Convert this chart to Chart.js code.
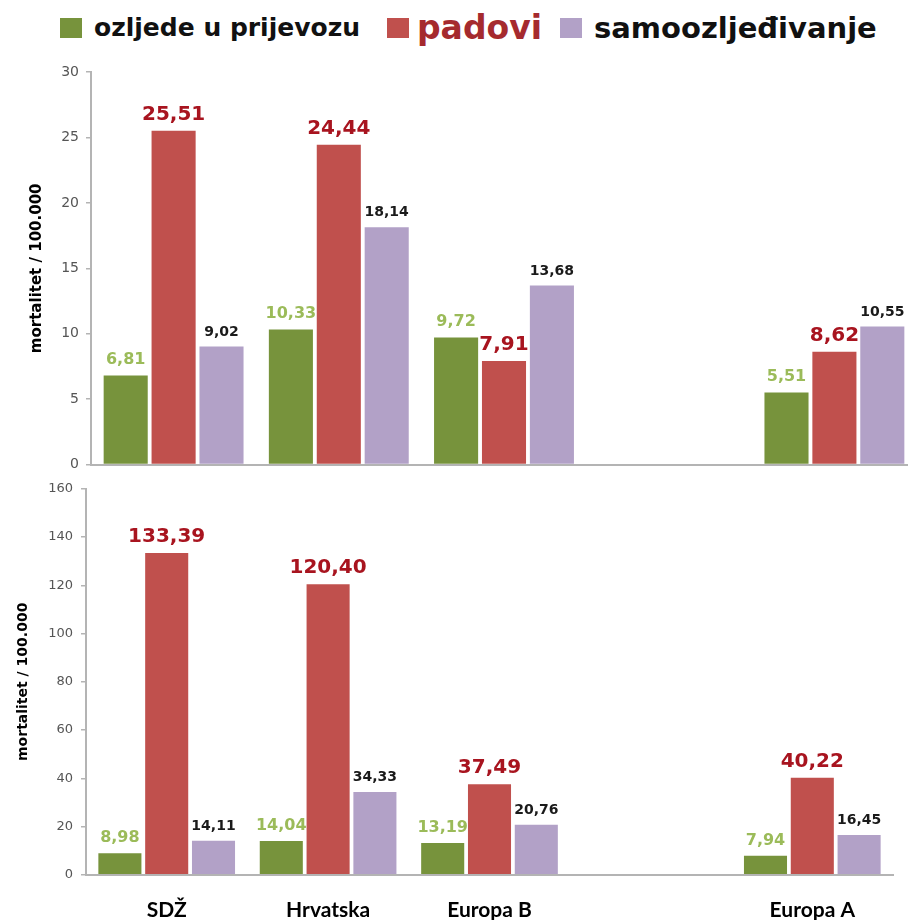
<!DOCTYPE html>
<html>
<head>
<meta charset="utf-8">
<script src="https://cdn.jsdelivr.net/npm/chart.js@4.4.0/dist/chart.umd.min.js"></script>
<style>
  body { margin: 0; background: #fff; width: 908px; height: 920px; overflow: hidden; position: relative; }
  #legend { position: absolute; top: 0; left: 0; width: 908px; height: 55px;
            font-family: "DejaVu Sans", Verdana, sans-serif; font-weight: bold; white-space: nowrap; }
  .item { position: absolute; top: 0; height: 55px; display: flex; align-items: center; }
  .box { width: 22px; height: 20px; margin-right: 12px; }
  #topWrap { position: absolute; top: 55px; left: 0; width: 908px; height: 425px; overflow: hidden; }
  #bottomWrap { position: absolute; top: 473px; left: 0; width: 908px; height: 475px; }
</style>
</head>
<body>
<div id="legend"></div>
<div id="topWrap"><canvas id="topChart" width="920" height="425" style="width:920px;height:425px"></canvas></div>
<div id="bottomWrap"><canvas id="bottomChart" width="908" height="475" style="width:908px;height:475px"></canvas></div>
<script>
const categories = ['SDŽ', 'Hrvatska', 'Europa B', '', 'Europa A'];
const seriesNames = ['ozljede u prijevozu', 'padovi', 'samoozljeđivanje'];

// gornji graf
const topTransport = [6.81, 10.33, 9.72, null, 5.51];
const topFalls = [25.51, 24.44, 7.91, null, 8.62];
const topSelfHarm = [9.02, 18.14, 13.68, null, 10.55];
const topTicks = [0, 5, 10, 15, 20, 25, 30];

// donji graf
const bottomTransport = [8.98, 14.04, 13.19, null, 7.94];
const bottomFalls = [133.39, 120.40, 37.49, null, 40.22];
const bottomSelfHarm = [14.11, 34.33, 20.76, null, 16.45];
const bottomTicks = [0, 20, 40, 60, 80, 100, 120, 140, 160];

const yTitle = 'mortalitet / 100.000';

const barColors = ['#77933c', '#c0504d', '#b2a1c7'];
const labelStyles = [
  { size: 16, color: '#9bbb59' },
  { size: 20, color: '#a8141f' },
  { size: 14, color: '#1a1a1a' }
];
const legendStyles = [
  { left: 60, size: 25, color: '#111', gap: 12 },
  { left: 387, size: 33, color: '#a52a2e', gap: 8 },
  { left: 560, size: 29, color: '#111', gap: 12 }
];

// legenda
const legend = document.getElementById('legend');
seriesNames.forEach((name, i) => {
  const st = legendStyles[i];
  legend.innerHTML += `<div class="item" style="left:${st.left}px">
    <div class="box" style="background:${barColors[i]};margin-right:${st.gap}px"></div>
    <span style="font-size:${st.size}px;color:${st.color}">${name}</span></div>`;
});

const fmt = v => v.toFixed(2).replace('.', ',');

const valueLabels = {
  id: 'valueLabels',
  afterDatasetsDraw(chart) {
    const ctx = chart.ctx;
    chart.data.datasets.forEach((ds, i) => {
      const meta = chart.getDatasetMeta(i);
      const st = labelStyles[i];
      ctx.save();
      ctx.font = `bold ${st.size}px "DejaVu Sans"`;
      ctx.fillStyle = st.color;
      ctx.textAlign = 'center';
      ctx.textBaseline = 'alphabetic';
      meta.data.forEach((el, j) => {
        const v = ds.data[j];
        if (v == null) return;
        ctx.fillText(fmt(v), el.x, el.y - 11);
      });
      ctx.restore();
    });
  }
};

function makeChart(id, series, ticks, opt) {
  const ctx = document.getElementById(id).getContext('2d');
  return new Chart(ctx, {
    type: 'bar',
    data: {
      labels: categories,
      datasets: series.map((data, i) => ({
        label: seriesNames[i],
        data: data,
        backgroundColor: barColors[i],
        barPercentage: 0.92,
        categoryPercentage: 0.87
      }))
    },
    options: {
      responsive: false,
      animation: false,
      layout: { padding: opt.padding },
      plugins: { legend: { display: false }, tooltip: { enabled: false } },
      scales: {
        x: {
          grid: { display: false, drawTicks: false },
          border: { display: true, color: '#b4b4b4', width: 2 },
          ticks: {
            display: opt.showX,
            padding: 23,
            color: '#000',
            font: { family: 'Lato', weight: 'bold', size: 21 }
          }
        },
        y: {
          min: ticks[0],
          max: ticks[ticks.length - 1],
          afterFit: s => { s.width = opt.axisWidth; },
          afterBuildTicks: s => { s.ticks = ticks.map(v => ({ value: v })); },
          grid: { display: true, drawOnChartArea: false, drawTicks: true, tickLength: 5, color: '#b4b4b4', lineWidth: 1.5 },
          border: { display: true, color: '#b4b4b4', width: 2 },
          ticks: {
            padding: opt.tickPad,
            color: '#555',
            font: { family: 'DejaVu Sans', size: opt.tickSize }
          },
          title: {
            display: true,
            text: yTitle,
            color: '#000',
            font: { family: 'DejaVu Sans', weight: 'bold', size: opt.titleSize },
            padding: { top: opt.titlePad, bottom: 0 }
          }
        }
      }
    },
    plugins: [valueLabels]
  });
}

makeChart('topChart', [topTransport, topFalls, topSelfHarm], topTicks, {
  padding: { top: 17, bottom: 10, left: 0, right: 3 },
  showX: false, axisWidth: 91, tickPad: 7, tickSize: 14, titleSize: 15, titlePad: 28
});

makeChart('bottomChart', [bottomTransport, bottomFalls, bottomSelfHarm], bottomTicks, {
  padding: { top: 8, bottom: 2, left: 0, right: 15 },
  showX: true, axisWidth: 86, tickPad: 8, tickSize: 13, titleSize: 14, titlePad: 15
});
</script>
</body>
</html>
